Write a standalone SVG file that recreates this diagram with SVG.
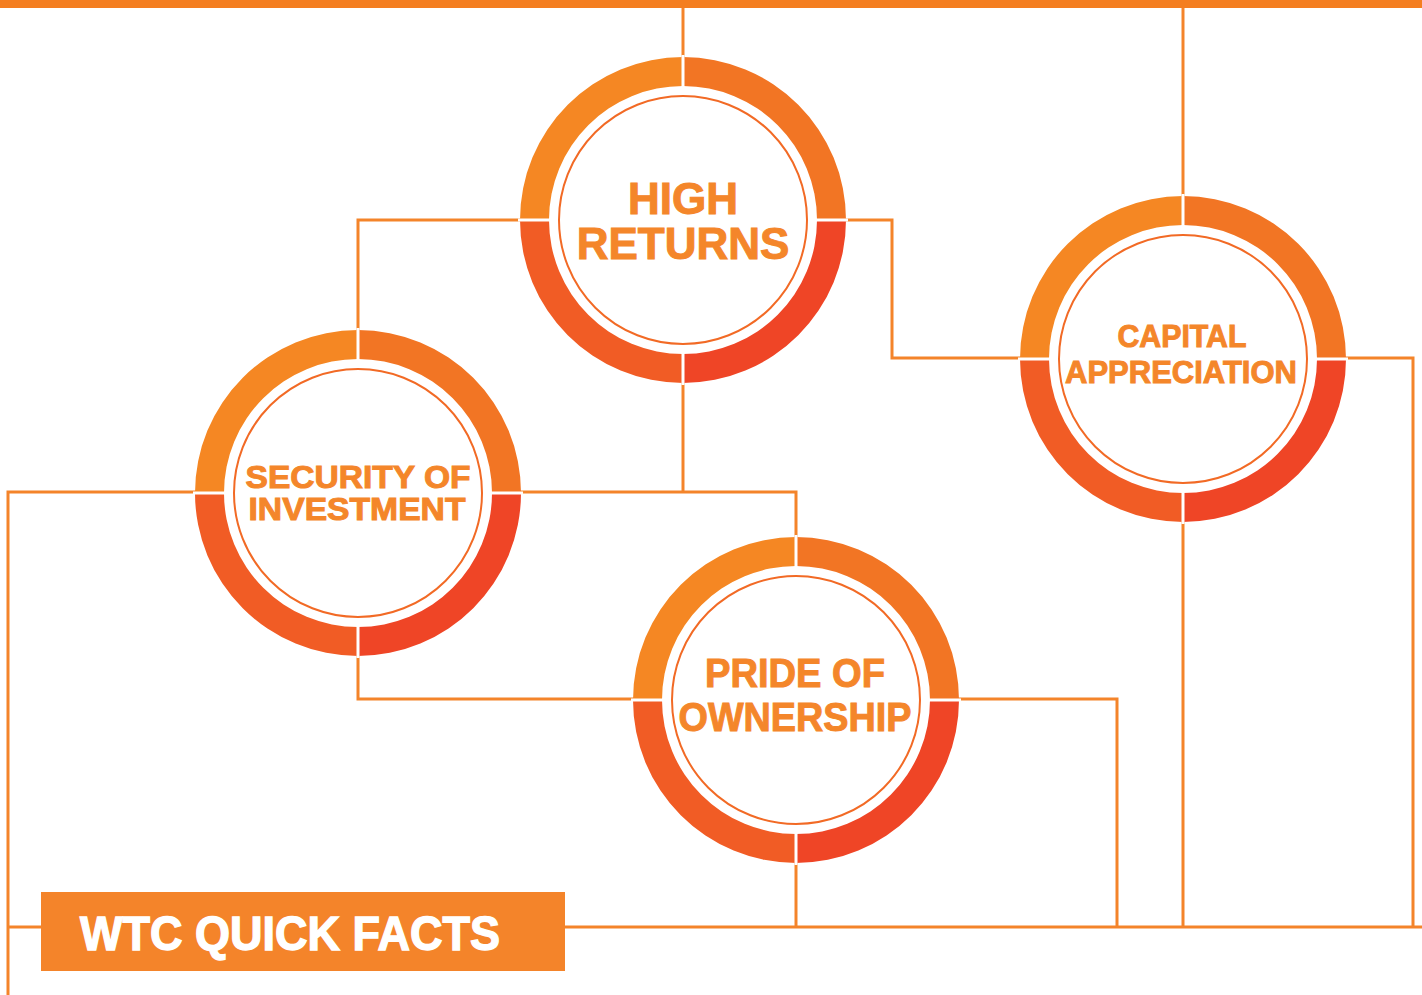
<svg xmlns="http://www.w3.org/2000/svg" xmlns:xlink="http://www.w3.org/1999/xlink" width="1422" height="995" viewBox="0 0 1422 995">
  <style>
    .wire { fill: none; stroke: #f4842a; stroke-width: 3; }
    .q-tl { fill: #f58723; }
    .q-tr { fill: #f27524; }
    .q-bl { fill: #f15c25; }
    .q-br { fill: #ef4526; }
    .gap { stroke: #ffffff; stroke-width: 3; fill: none; }
    .inner { fill: #ffffff; stroke: #f26a25; stroke-width: 2; }
    .label { font-family: "Liberation Sans", Arial, sans-serif; font-weight: bold; fill: #f4862a; stroke: #f4862a; stroke-width: 1; text-anchor: middle; }
    .banner-text { font-family: "Liberation Sans", Arial, sans-serif; font-weight: bold; fill: #ffffff; stroke: #ffffff; stroke-width: 1.4; }
  </style>
  <defs>
    <!-- four-quadrant ring, centred on the origin -->
    <g id="ring">
      <path class="q-tl" d="M-163 0 A163 163 0 0 1 0 -163 L0 -134 A134 134 0 0 0 -134 0 Z"/>
      <path class="q-tr" d="M0 -163 A163 163 0 0 1 163 0 L134 0 A134 134 0 0 0 0 -134 Z"/>
      <path class="q-br" d="M163 0 A163 163 0 0 1 0 163 L0 134 A134 134 0 0 0 134 0 Z"/>
      <path class="q-bl" d="M0 163 A163 163 0 0 1 -163 0 L-134 0 A134 134 0 0 0 0 134 Z"/>
      <path class="gap" d="M-165 0 H-130 M130 0 H165 M0 -165 V-130 M0 130 V165"/>
      <circle class="inner" cx="0" cy="0" r="124"/>
    </g>
  </defs>

  <rect x="0" y="0" width="1422" height="8" fill="#f47e20"/>

  <g id="connectors">
    <path class="wire" d="M683 8 V60"/>
    <path class="wire" d="M1183 8 V198"/>
    <path class="wire" d="M522 220 H358 V332"/>
    <path class="wire" d="M844 220 H892 V358 H1022"/>
    <path class="wire" d="M683 382 V492"/>
    <path class="wire" d="M519 492 H796 V539"/>
    <path class="wire" d="M197 492 H8 V995"/>
    <path class="wire" d="M8 927 H41"/>
    <path class="wire" d="M358 654 V699 H635"/>
    <path class="wire" d="M957 699 H1117 V927"/>
    <path class="wire" d="M796 861 V927"/>
    <path class="wire" d="M1183 520 V927"/>
    <path class="wire" d="M1344 358 H1413 V927"/>
    <path class="wire" d="M565 927 H1422"/>
  </g>

  <g id="node-high-returns">
    <use xlink:href="#ring" transform="translate(683,220)"/>
    <text class="label" x="683" y="214" font-size="44">HIGH</text>
    <text class="label" x="683" y="259" font-size="44">RETURNS</text>
  </g>

  <g id="node-security">
    <use xlink:href="#ring" transform="translate(358,493)"/>
    <text class="label" x="358" y="488" font-size="32" textLength="225" lengthAdjust="spacingAndGlyphs">SECURITY OF</text>
    <text class="label" x="357" y="520" font-size="32" textLength="217" lengthAdjust="spacingAndGlyphs">INVESTMENT</text>
  </g>

  <g id="node-capital">
    <use xlink:href="#ring" transform="translate(1183,359)"/>
    <text class="label" x="1182" y="347" font-size="32" textLength="129" lengthAdjust="spacingAndGlyphs">CAPITAL</text>
    <text class="label" x="1181" y="383" font-size="32" textLength="232" lengthAdjust="spacingAndGlyphs">APPRECIATION</text>
  </g>

  <g id="node-pride">
    <use xlink:href="#ring" transform="translate(796,700)"/>
    <text class="label" x="795" y="687" font-size="40" textLength="180" lengthAdjust="spacingAndGlyphs">PRIDE OF</text>
    <text class="label" x="795" y="731" font-size="40" textLength="233" lengthAdjust="spacingAndGlyphs">OWNERSHIP</text>
  </g>

  <g id="banner">
    <rect x="41" y="892" width="524" height="79" fill="#f4842a"/>
    <text class="banner-text" x="80" y="950" font-size="48" textLength="420" lengthAdjust="spacingAndGlyphs">WTC QUICK FACTS</text>
  </g>
</svg>
